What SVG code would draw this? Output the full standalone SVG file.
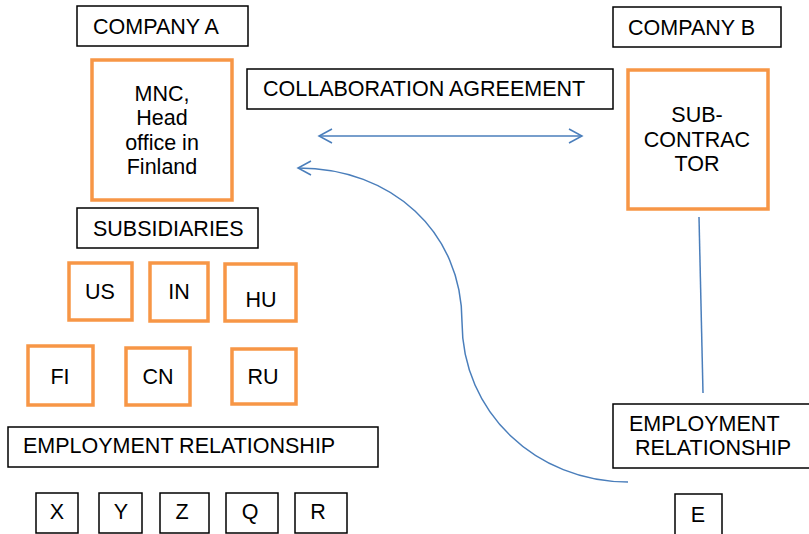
<svg xmlns="http://www.w3.org/2000/svg" width="809" height="534" viewBox="0 0 809 534">
<style>
.lbl{fill:#fff;stroke:#000;stroke-width:1.5}
.org{fill:#fff;stroke:#F79646;stroke-width:3.5}
text{font-family:"Liberation Sans",Arial,sans-serif;font-size:21.5px;fill:#000}
.c{text-anchor:middle}
.con{fill:none;stroke:#4A7EBB;stroke-width:1.5}
</style>
<defs>
<marker id="arr" viewBox="0 0 16 16" refX="14" refY="8" markerWidth="16" markerHeight="16" markerUnits="userSpaceOnUse" orient="auto-start-reverse">
<path d="M1,1 L14,8 L1,15" fill="none" stroke="#4A7EBB" stroke-width="1.5"/>
</marker>
</defs>
<rect width="809" height="534" fill="#fff"/>
<g id="connectors">
<line class="con" x1="319" y1="136" x2="582" y2="136" marker-start="url(#arr)" marker-end="url(#arr)"/>
<path class="con" d="M628,482 C536,482 462,412 462,322 C462,232 392,168 298,168" marker-end="url(#arr)"/>
<line class="con" x1="699" y1="217" x2="703" y2="393"/>
</g>
<g id="companyA"><rect class="lbl" x="77" y="6" width="171" height="40"/><text x="93" y="34">COMPANY A</text></g>
<g id="mnc"><rect class="org" x="92" y="60" width="140" height="140"/>
<text class="c" x="162" y="101">MNC,</text><text class="c" x="162" y="125">Head</text><text class="c" x="162" y="150">office in</text><text class="c" x="162" y="174">Finland</text></g>
<g id="subsidiaries"><rect class="lbl" x="77" y="208" width="181" height="40"/><text x="93" y="236">SUBSIDIARIES</text></g>
<g id="collab"><rect class="lbl" x="247" y="69" width="366" height="40"/><text x="263" y="96">COLLABORATION AGREEMENT</text></g>
<g id="companyB"><rect class="lbl" x="613" y="7" width="168" height="40"/><text x="628" y="35">COMPANY B</text></g>
<g id="subcontractor"><rect class="org" x="628" y="70" width="140" height="139"/>
<text class="c" x="697" y="122">SUB-</text><text class="c" x="697" y="147">CONTRAC</text><text class="c" x="697" y="171">TOR</text></g>
<g id="us"><rect class="org" x="69" y="263" width="63" height="57"/><text class="c" x="100" y="299">US</text></g>
<g id="in"><rect class="org" x="150" y="263" width="58" height="58"/><text class="c" x="179" y="299">IN</text></g>
<g id="hu"><rect class="org" x="225" y="264" width="71" height="57"/><text class="c" x="261" y="307">HU</text></g>
<g id="fi"><rect class="org" x="28" y="346" width="65" height="59"/><text class="c" x="60" y="384">FI</text></g>
<g id="cn"><rect class="org" x="126" y="348" width="64" height="57"/><text class="c" x="158" y="384">CN</text></g>
<g id="ru"><rect class="org" x="232" y="349" width="64" height="55"/><text class="c" x="263" y="384">RU</text></g>
<g id="empA"><rect class="lbl" x="8" y="427" width="370" height="40"/><text x="23" y="453">EMPLOYMENT RELATIONSHIP</text></g>
<g id="empB"><rect class="lbl" x="613" y="404" width="200" height="64"/><text x="629" y="431">EMPLOYMENT</text><text x="635" y="455">RELATIONSHIP</text></g>
<g id="x"><rect class="lbl" x="36" y="493" width="42" height="40"/><text class="c" x="57" y="519">X</text></g>
<g id="y"><rect class="lbl" x="99" y="493" width="43" height="40"/><text class="c" x="121" y="519">Y</text></g>
<g id="z"><rect class="lbl" x="160" y="493" width="49" height="40"/><text class="c" x="182" y="519">Z</text></g>
<g id="q"><rect class="lbl" x="226" y="493" width="52" height="40"/><text class="c" x="250" y="519">Q</text></g>
<g id="r"><rect class="lbl" x="295" y="493" width="52" height="40"/><text class="c" x="318" y="519">R</text></g>
<g id="e"><rect class="lbl" x="675" y="494" width="47" height="45"/><text class="c" x="698" y="522">E</text></g>
</svg>
